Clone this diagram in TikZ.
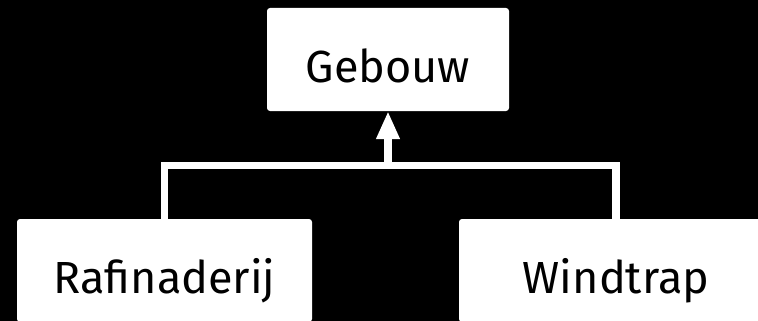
\documentclass[tikz,border=0pt]{standalone}
\usepackage{fontspec}
\setmainfont{Fira Sans}
\usetikzlibrary{arrows.meta}
\begin{document}
\begin{tikzpicture}[x=1pt,y=-1pt,
  box/.style={fill=white, rounded corners=3pt, inner sep=0pt, text=black,
    font=\fontsize{45}{54}\selectfont, text height=45pt, text depth=0pt},
  conn/.style={draw=white, line width=7.5pt}]
\fill[black] (0,0) rectangle (758,321);
\useasboundingbox (0,0) rectangle (758,321);
\node[box, minimum width=242pt, minimum height=103pt] (geb) at (388,59.5) {Gebouw};
\node[box, minimum width=295pt, minimum height=103pt] (raf) at (164.5,270.5) {Rafinaderij};
\node[box, minimum width=314pt, minimum height=103pt] (wind) at (616,270.5) {Windtrap};
\coordinate (mid) at (388,165.5);
\draw[conn] (raf.north) |- (mid) -| (wind.north);
\draw[conn, -{Triangle[length=28pt,width=22pt]}] (mid) -- (geb.south);
\end{tikzpicture}
\end{document}
